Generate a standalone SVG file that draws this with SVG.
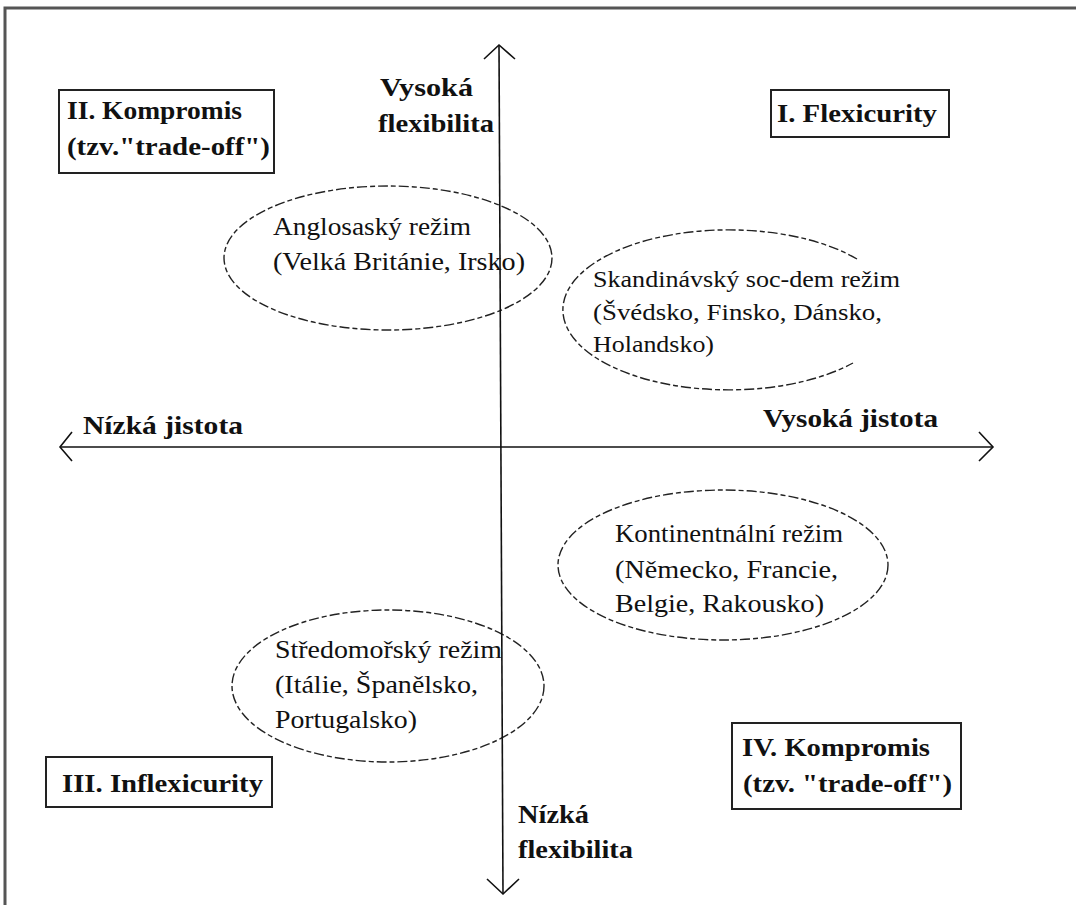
<svg xmlns="http://www.w3.org/2000/svg" width="1076" height="905" viewBox="0 0 1076 905">
<style>
.b{font-family:"Liberation Serif","Times New Roman",serif;font-weight:bold;font-size:26px;fill:#111}
.r{font-family:"Liberation Serif","Times New Roman",serif;font-size:26px;fill:#111}
.s{font-family:"Liberation Serif","Times New Roman",serif;font-size:23px;fill:#111}
.box{fill:#fff;stroke:#222;stroke-width:2}
.ell{fill:none;stroke:#222;stroke-width:1.4;stroke-dasharray:10 3 5 3}
.ax{fill:none;stroke:#111;stroke-width:1.6}
</style>
<rect width="1076" height="905" fill="#fff"/>
<path d="M5 905 V8 H1076" fill="none" stroke="#555" stroke-width="3"/>
<g id="box-II">
<rect class="box" x="59" y="90" width="215" height="83"/>
<text class="b" x="67" y="119" textLength="175" lengthAdjust="spacingAndGlyphs">II. Kompromis</text>
<text class="b" x="67" y="155" textLength="203" lengthAdjust="spacingAndGlyphs">(tzv."trade-off")</text>
</g>
<g id="box-I">
<rect class="box" x="771" y="90" width="178" height="47"/>
<text class="b" x="777" y="122" textLength="160" lengthAdjust="spacingAndGlyphs">I. Flexicurity</text>
</g>
<g id="box-III">
<rect class="box" x="46" y="757" width="226" height="50"/>
<text class="b" x="62" y="792" textLength="201" lengthAdjust="spacingAndGlyphs">III. Inflexicurity</text>
</g>
<g id="box-IV">
<rect class="box" x="732" y="723" width="229" height="86"/>
<text class="b" x="742" y="756" textLength="188" lengthAdjust="spacingAndGlyphs">IV. Kompromis</text>
<text class="b" x="743" y="792" textLength="209" lengthAdjust="spacingAndGlyphs">(tzv. "trade-off")</text>
</g>
<g id="anglosasky">
<ellipse class="ell" cx="388" cy="258" rx="164" ry="72"/>
<text class="r" x="273" y="235" textLength="198" lengthAdjust="spacingAndGlyphs">Anglosaský režim</text>
<text class="r" x="273" y="270" textLength="252" lengthAdjust="spacingAndGlyphs">(Velká Británie, Irsko)</text>
</g>
<g id="skandinavsky">
<path class="ell" d="M857 259 A166 80 0 1 0 853 363"/>
<text class="s" x="593" y="287" textLength="307" lengthAdjust="spacingAndGlyphs">Skandinávský soc-dem režim</text>
<text class="s" x="593" y="320" textLength="289" lengthAdjust="spacingAndGlyphs">(Švédsko, Finsko, Dánsko,</text>
<text class="s" x="593" y="352" textLength="121" lengthAdjust="spacingAndGlyphs">Holandsko)</text>
</g>
<g id="kontinentalni">
<ellipse class="ell" cx="723" cy="565" rx="165" ry="75"/>
<text class="r" x="615" y="542" textLength="228" lengthAdjust="spacingAndGlyphs">Kontinentnální režim</text>
<text class="r" x="615" y="578" textLength="223" lengthAdjust="spacingAndGlyphs">(Německo, Francie,</text>
<text class="r" x="615" y="612" textLength="209" lengthAdjust="spacingAndGlyphs">Belgie, Rakousko)</text>
</g>
<g id="stredomorsky">
<ellipse class="ell" cx="388" cy="686" rx="156" ry="76"/>
<text class="r" x="275" y="658" textLength="227" lengthAdjust="spacingAndGlyphs">Středomořský režim</text>
<text class="r" x="275" y="693" textLength="203" lengthAdjust="spacingAndGlyphs">(Itálie, Španělsko,</text>
<text class="r" x="275" y="728" textLength="142" lengthAdjust="spacingAndGlyphs">Portugalsko)</text>
</g>
<g id="axis-labels">
<text class="b" x="380" y="96" textLength="93" lengthAdjust="spacingAndGlyphs">Vysoká</text>
<text class="b" x="378" y="132" textLength="116" lengthAdjust="spacingAndGlyphs">flexibilita</text>
<text class="b" x="518" y="823" textLength="71" lengthAdjust="spacingAndGlyphs">Nízká</text>
<text class="b" x="518" y="858" textLength="115" lengthAdjust="spacingAndGlyphs">flexibilita</text>
<text class="b" x="83" y="434" textLength="160" lengthAdjust="spacingAndGlyphs">Nízká jistota</text>
<text class="b" x="763" y="427" textLength="175" lengthAdjust="spacingAndGlyphs">Vysoká jistota</text>
</g>
<g id="connectors">
<path class="ax" d="M499 45 L503 894"/>
<path class="ax" d="M484 59 L499 45 L515 59"/>
<path class="ax" d="M487 879 L503 894 L519 879"/>
<path class="ax" d="M60 447 H993" stroke-width="2"/>
<path class="ax" d="M72 432 L60 447 L72 461"/>
<path class="ax" d="M979 432 L993 447 L979 461"/>
</g>
</svg>
